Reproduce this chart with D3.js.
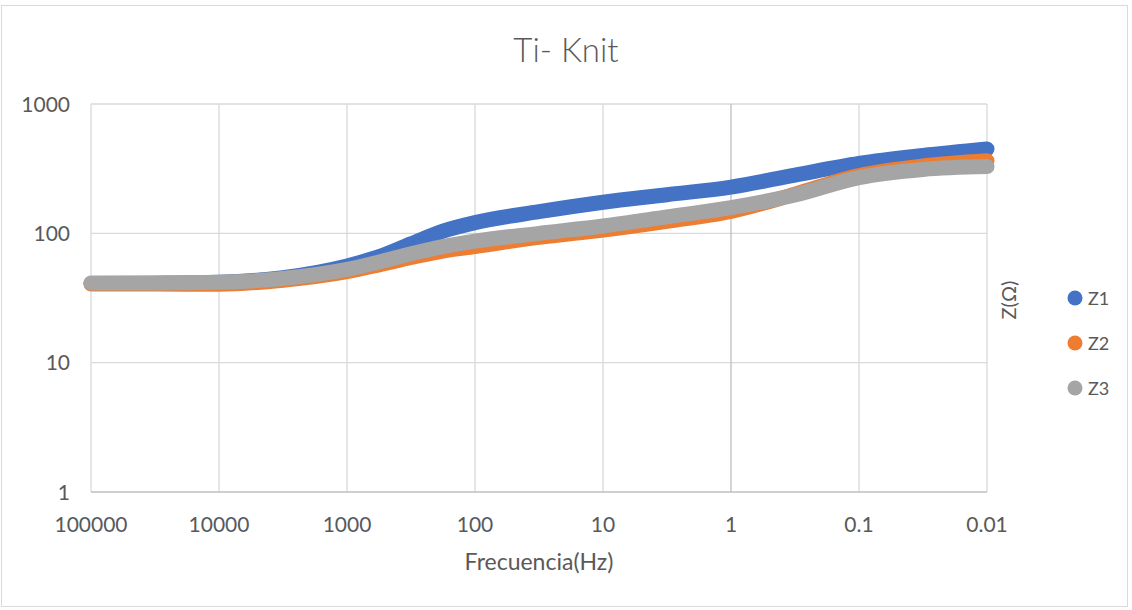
<!DOCTYPE html>
<html>
<head>
<meta charset="utf-8">
<script src="https://cdn.jsdelivr.net/npm/d3@7"></script>
<style>
  body { margin: 0; background: #fff; }
  text { font-family: Lato, "Open Sans", sans-serif; fill: #595959; }
</style>
</head>
<body>
<svg width="1132" height="610"></svg>
<script>
const WIDTH = 1132;
const HEIGHT = 610;
const PLOT = { left: 91, right: 987, top: 104, bottom: 492 };
const COLORS = ["#4472C4", "#ED7D31", "#A5A5A5"];
const BAND = 15;

// frecuencias (Hz)
const freq = [100000, 31623, 10000, 3162, 1000, 562, 316, 178, 100, 31.6, 10, 3.16, 1, 0.316, 0.1, 0.0316, 0.01];
// impedancias (ohm)
const z1 = [41, 41.2, 41.8, 45.5, 56, 66, 83, 104, 121, 147, 174, 199, 228, 282, 347, 400, 449];
const z2 = [40.6, 40.5, 40.4, 43.4, 50.5, 57, 65, 73, 79, 93, 106, 124, 148, 201, 280, 332, 364];
const z3 = [41.3, 41.3, 41.8, 44.8, 52.6, 60, 69.5, 79, 87, 100, 114, 134, 158, 198, 270, 312, 328];
const seriesNames = ["Z1", "Z2", "Z3"];
const seriesValues = [z1, z2, z3];

const xTicks = [100000, 10000, 1000, 100, 10, 1, 0.1, 0.01];
const xTickLabels = ["100000", "10000", "1000", "100", "10", "1", "0.1", "0.01"];
const yTicks = [1, 10, 100, 1000];
const yTickLabels = ["1", "10", "100", "1000"];

const svg = d3.select("svg");

const x = d3.scaleLog()
  .domain([100000, 0.01])
  .range([PLOT.left, PLOT.right]);

const y = d3.scaleLog()
  .domain([1, 1000])
  .range([PLOT.bottom, PLOT.top]);

// marco del grafico
svg.append("rect")
  .attr("x", 1.5)
  .attr("y", 5.5)
  .attr("width", 1126)
  .attr("height", 601)
  .attr("fill", "#fff")
  .attr("stroke", "#d9d9d9");

// titulo
svg.append("text")
  .attr("x", WIDTH / 2)
  .attr("y", 62)
  .attr("text-anchor", "middle")
  .style("font-size", "33px")
  .style("font-weight", 300)
  .text("Ti- Knit");

// rejilla horizontal
svg.append("g")
  .selectAll("line")
  .data(yTicks.slice(1))
  .join("line")
  .attr("x1", PLOT.left)
  .attr("x2", PLOT.right)
  .attr("y1", d => y(d))
  .attr("y2", d => y(d))
  .attr("stroke", "#d9d9d9")
  .attr("stroke-width", 1.3);

// rejilla vertical
svg.append("g")
  .selectAll("line")
  .data(xTicks.filter(d => d !== 1))
  .join("line")
  .attr("x1", d => x(d))
  .attr("x2", d => x(d))
  .attr("y1", PLOT.top)
  .attr("y2", PLOT.bottom)
  .attr("stroke", "#d9d9d9")
  .attr("stroke-width", 1.3);

// ejes (el eje de valores cruza en 1 Hz)
svg.append("line")
  .attr("x1", PLOT.left)
  .attr("x2", PLOT.right)
  .attr("y1", y(1))
  .attr("y2", y(1))
  .attr("stroke", "#bfbfbf")
  .attr("stroke-width", 1.3);

svg.append("line")
  .attr("x1", x(1))
  .attr("x2", x(1))
  .attr("y1", PLOT.top)
  .attr("y2", PLOT.bottom)
  .attr("stroke", "#bfbfbf")
  .attr("stroke-width", 1.3);

// etiquetas eje x
svg.append("g")
  .selectAll("text")
  .data(xTicks)
  .join("text")
  .attr("x", d => x(d))
  .attr("y", 532)
  .attr("text-anchor", "middle")
  .style("font-size", "21px")
  .text((d, i) => xTickLabels[i]);

// etiquetas eje y
svg.append("g")
  .selectAll("text")
  .data(yTicks)
  .join("text")
  .attr("x", 70)
  .attr("y", d => y(d) + 7.5)
  .attr("text-anchor", "end")
  .style("font-size", "21px")
  .text((d, i) => yTickLabels[i]);

// titulos de ejes
svg.append("text")
  .attr("x", (PLOT.left + PLOT.right) / 2)
  .attr("y", 570)
  .attr("text-anchor", "middle")
  .style("font-size", "23px")
  .text("Frecuencia(Hz)");

svg.append("text")
  .attr("transform", "translate(1016,300) rotate(-90)")
  .attr("text-anchor", "middle")
  .style("font-size", "20px")
  .text("Z(Ω)");

// series
const line = d3.line()
  .x(d => x(d.f))
  .y(d => y(d.z))
  .curve(d3.curveMonotoneX);

for (let s = 0; s < seriesValues.length; s++) {
  let points = freq.map((f, i) => ({ f: f, z: seriesValues[s][i] }));
  svg.append("path")
    .datum(points)
    .attr("d", line)
    .attr("fill", "none")
    .attr("stroke", COLORS[s])
    .attr("stroke-width", BAND)
    .attr("stroke-linecap", "round")
    .attr("stroke-linejoin", "round");
}

// leyenda
const legend = svg.append("g")
  .selectAll("g")
  .data(seriesNames)
  .join("g")
  .attr("transform", (d, i) => "translate(1075," + (298 + i * 45) + ")");

legend.append("circle")
  .attr("r", 7.5)
  .attr("fill", (d, i) => COLORS[i]);

legend.append("text")
  .attr("x", 13)
  .attr("y", 6.5)
  .style("font-size", "18px")
  .text(d => d);
</script>
</body>
</html>
